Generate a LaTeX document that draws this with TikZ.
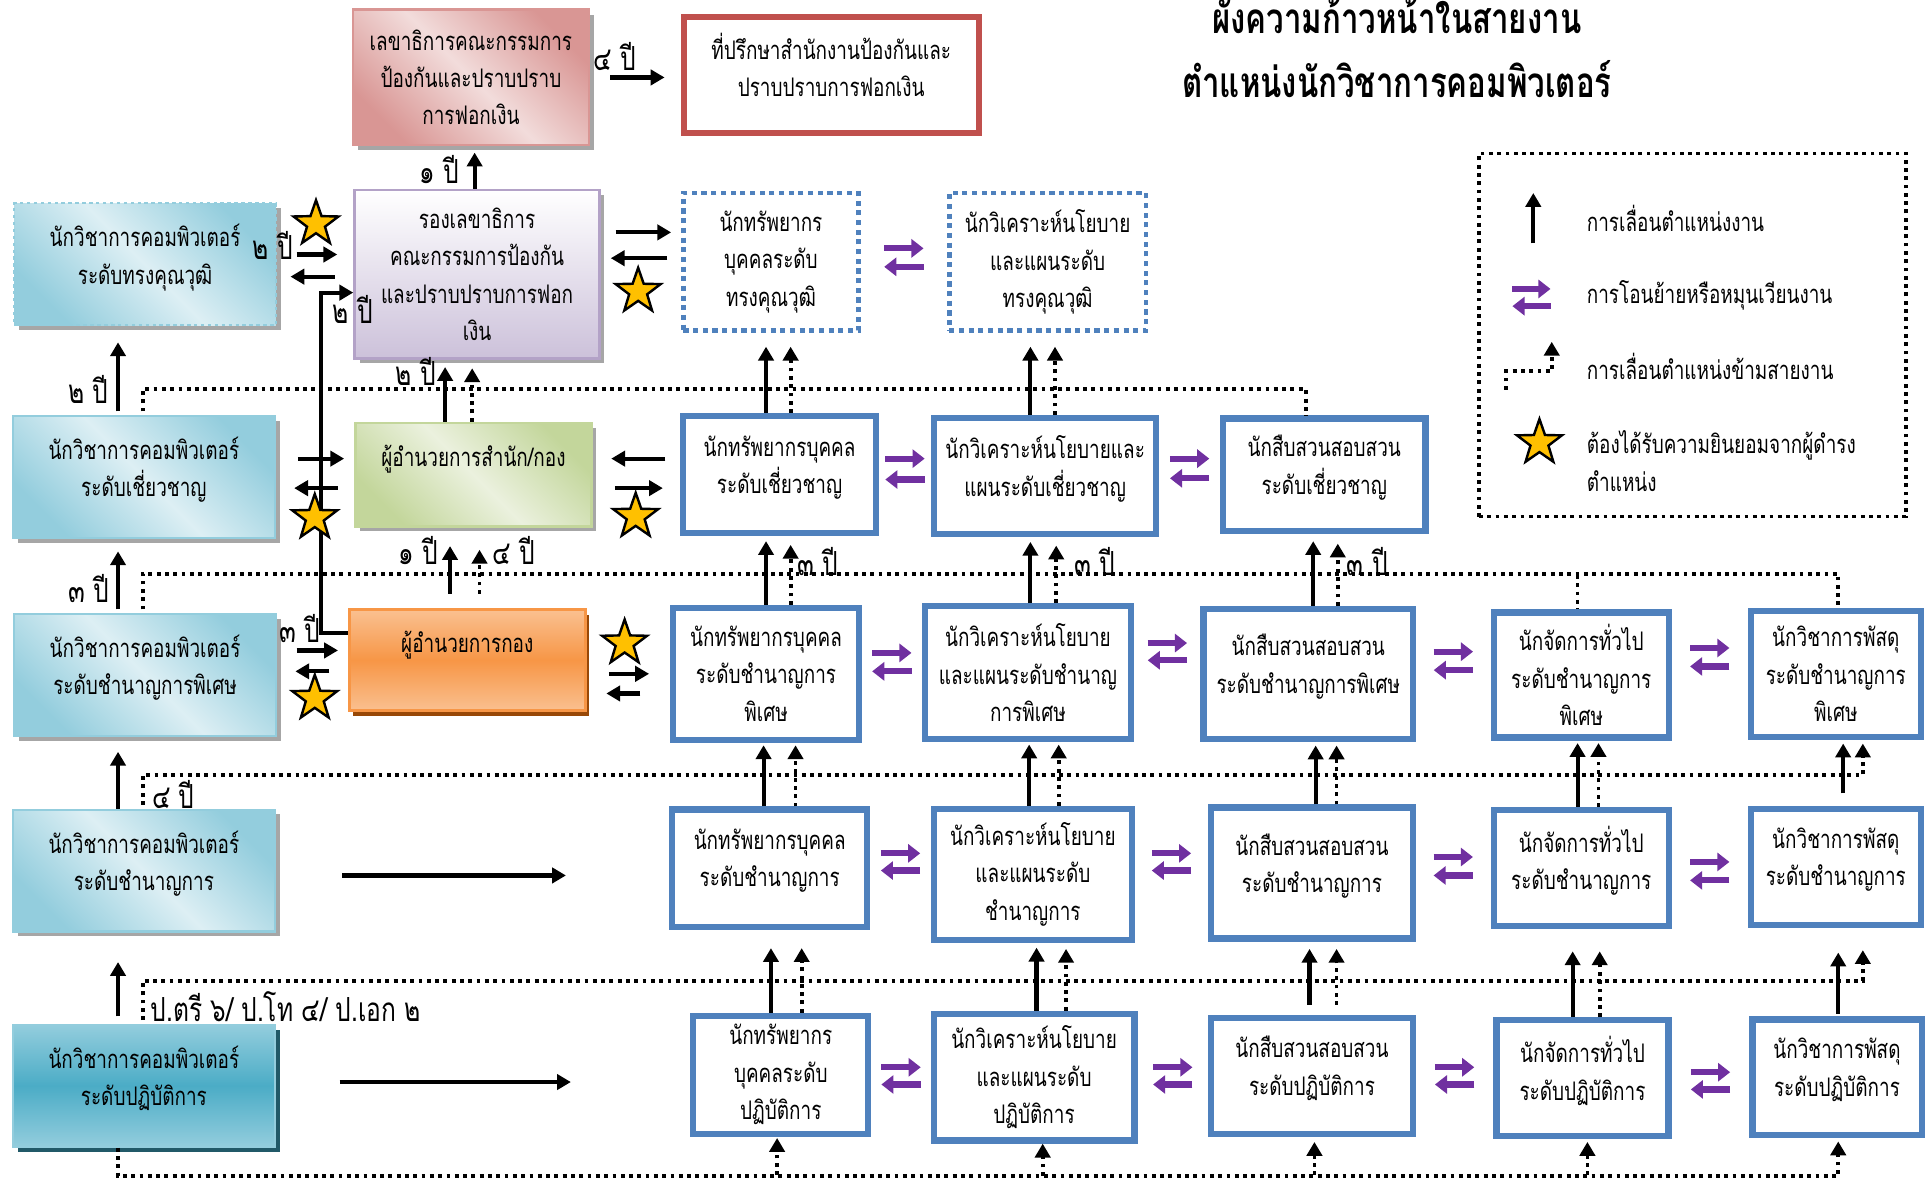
\documentclass[tikz,border=0pt]{standalone}
\usepackage{fontspec}
\newfontfamily\thai[Script=Thai,FakeStretch=0.74]{Loma}
\usetikzlibrary{arrows.meta,shapes.geometric,shadows,calc}
\setlength{\lineskiplimit}{-20pt}

\definecolor{jobblue}{HTML}{4F81BD}
\definecolor{swapc}{HTML}{7030A0}
\definecolor{starc}{HTML}{FFC000}
\definecolor{advred}{HTML}{C0504D}
\definecolor{aquad}{HTML}{93CDDD}
\definecolor{aqual}{HTML}{DDEFF4}
\definecolor{tealc}{HTML}{4BACC6}
\definecolor{tealsh}{HTML}{215968}
\definecolor{pinkd}{HTML}{D99694}
\definecolor{pinkl}{HTML}{F2DCDB}
\definecolor{lavd}{HTML}{CCC1DA}
\definecolor{lavb}{HTML}{B3A2C7}
\definecolor{leafd}{HTML}{C3D69B}
\definecolor{leafl}{HTML}{EBF1DE}
\definecolor{orgd}{HTML}{F79646}
\definecolor{orgl}{HTML}{FAC090}
\definecolor{orgsh}{HTML}{984807}

% purple pair between two neighbouring boxes
\newcommand{\swap}[4]{%
  \draw[trans] ($(#1.east)!.5!(#2.west)+(-16,#3)$) -- ($(#1.east)!.5!(#2.west)+(16,#3)$);
  \draw[trans] ($(#1.east)!.5!(#2.west)+(16,#4)$) -- ($(#1.east)!.5!(#2.west)+(-16,#4)$);}

\tikzset{
  boxfont/.style={font=\thai\fontsize{7.4}{10.8}\selectfont},
  anybox/.style={boxfont, align=center, inner sep=0pt},
  wh/.style 2 args={minimum width=#1mm, minimum height=#2mm},
  boxshadow/.style={drop shadow={shadow xshift=0.5mm, shadow yshift=-0.5mm, fill=black!35, opacity=1}},
  lbox/.style={anybox, boxshadow, draw=aquad, line width=0.6pt,
    top color=aquad, bottom color=aquad, middle color=aqual, shading angle=-45, wh={26.6}{12.4}},
  opbox/.style={anybox, drop shadow={shadow xshift=0.5mm, shadow yshift=-0.5mm, fill=tealsh, opacity=1},
    draw=aquad, line width=0.6pt, top color=aquad, bottom color=aquad, middle color=tealc, wh={26.6}{12.4}},
  secbox/.style={anybox, boxshadow, draw=pinkd, line width=0.8pt,
    top color=pinkd, bottom color=pinkd, middle color=pinkl, shading angle=-45},
  advbox/.style={anybox, draw=advred, line width=1.8pt, fill=white},
  depbox/.style={anybox, boxshadow, draw=lavb, line width=0.8pt, top color=white, bottom color=lavd},
  dirbox/.style={anybox, boxshadow, draw=leafd, line width=0.8pt,
    top color=leafd, bottom color=leafd, middle color=leafl, shading angle=-45},
  divbox/.style={anybox, drop shadow={shadow xshift=0.4mm, shadow yshift=-0.5mm, fill=orgsh, opacity=1},
    draw=orgd, line width=0.8pt, top color=orgl, bottom color=orgl, middle color=orgd},
  jobbox/.style={anybox, draw=jobblue, line width=1.8pt, fill=white},
  topjob/.style={anybox, draw=jobblue, line width=1.4pt, dash pattern=on 1.5pt off 1.3pt, fill=white},
  okstar/.style={star, star points=5, star point ratio=2.5, minimum size=4.8mm, inner sep=0pt,
    fill=starc, draw=black, line width=0.7pt},
  arr/.style={line width=1.2pt, -{Triangle[length=4pt,width=4.4pt]}},
  bus/.style={line width=1.1pt, dash pattern=on 1.1pt off 1.3pt},
  dotarr/.style={bus, -{Triangle[length=4pt,width=4.4pt]}},
  trans/.style={swapc, line width=1.8pt, -{Triangle[length=3.5pt,width=5.2pt]}},
  yr/.style={font=\thai\fontsize{9.6}{12}\selectfont, inner sep=0pt},
  keytxt/.style={boxfont, anchor=west, align=left, inner sep=0pt},
  keybox/.style={draw, line width=1.1pt, dash pattern=on 1.1pt off 1.3pt},
  head/.style={font=\thai\bfseries\fontsize{12.2}{18.4}\selectfont, align=center, inner sep=0pt}
}

\begin{document}
\begin{tikzpicture}[x=0.125mm, y=-0.125mm]
  \useasboundingbox (0,0) rectangle (1568,968);

  % title
  \node[head] (title) at (1136,39) {ผังความก้าวหน้าในสายงาน\\ตำแหน่งนักวิชาการคอมพิวเตอร์};

  % left column
  \node[lbox, dash pattern=on 1pt off 1pt] (L1) at (118,215) {นักวิชาการคอมพิวเตอร์\\ระดับทรงคุณวุฒิ\\[-5pt] \mbox{}};
  \node[lbox] (L2) at (117,388) {นักวิชาการคอมพิวเตอร์\\ระดับเชี่ยวชาญ\\[-5pt] \mbox{}};
  \node[lbox] (L3) at (118,549) {นักวิชาการคอมพิวเตอร์\\ระดับชำนาญการพิเศษ\\[-5pt] \mbox{}};
  \node[lbox] (L4) at (117,708) {นักวิชาการคอมพิวเตอร์\\ระดับชำนาญการ\\[-5pt] \mbox{}};
  \node[opbox] (L5) at (117,883) {นักวิชาการคอมพิวเตอร์\\ระดับปฏิบัติการ\\[-5pt] \mbox{}};

  % executive boxes
  \node[secbox, wh={24}{13.75}] (sec) at (383,63) {เลขาธิการคณะกรรมการ\\ป้องกันและปราบปราบ\\การฟอกเงิน};
  \node[advbox, wh={30}{11.8}] (adv) at (676,61) {ที่ปรึกษาสำนักงานป้องกันและ\\ปราบปราบการฟอกเงิน\\[-5pt] \mbox{}};
  \node[depbox, wh={24.9}{17.1}] (dep) at (388,223) {รองเลขาธิการ\\คณะกรรมการป้องกัน\\และปราบปราบการฟอก\\เงิน};
  \node[dirbox, wh={24}{10.5}] (dir) at (385,386) {ผู้อำนวยการสำนัก/กอง\\ \mbox{}};
  \node[divbox, wh={24}{10.25}] (divd) at (380,537) {ผู้อำนวยการกอง\\ \mbox{}};

  % other lines of work
  \node[topjob, wh={17.8}{14.0}] (A0) at (627,213) {นักทรัพยากร\\บุคคลระดับ\\ทรงคุณวุฒิ};
  \node[topjob, wh={20.0}{14.0}] (B0) at (852,213) {นักวิเคราะห์นโยบาย\\และแผนระดับ\\ทรงคุณวุฒิ};

  \node[jobbox, wh={19.6}{11.9}] (A1) at (634,386) {นักทรัพยากรบุคคล\\ระดับเชี่ยวชาญ\\[-5pt] \mbox{}};
  \node[jobbox, wh={22.6}{11.8}] (B1) at (850,387) {นักวิเคราะห์นโยบายและ\\แผนระดับเชี่ยวชาญ\\[-5pt] \mbox{}};
  \node[jobbox, wh={20.6}{11.4}] (C1) at (1077,386) {นักสืบสวนสอบสวน\\ระดับเชี่ยวชาญ\\[-5pt] \mbox{}};

  \node[jobbox, wh={18.9}{13.4}] (A2) at (623,548) {นักทรัพยากรบุคคล\\ระดับชำนาญการ\\พิเศษ};
  \node[jobbox, wh={21.0}{13.5}] (B2) at (836,547) {นักวิเคราะห์นโยบาย\\และแผนระดับชำนาญ\\การพิเศษ};
  \node[jobbox, wh={21.3}{13.2}] (C2) at (1064,548) {นักสืบสวนสอบสวน\\ระดับชำนาญการพิเศษ\\[-5pt] \mbox{}};
  \node[jobbox, wh={17.8}{12.7}] (D2) at (1286,549) {นักจัดการทั่วไป\\ระดับชำนาญการ\\พิเศษ};
  \node[jobbox, wh={17.3}{12.8}] (E2) at (1493,548) {นักวิชาการพัสดุ\\ระดับชำนาญการ\\พิเศษ};

  \node[jobbox, wh={19.8}{11.9}] (A3) at (626,706) {นักทรัพยากรบุคคล\\ระดับชำนาญการ\\[-5pt] \mbox{}};
  \node[jobbox, wh={20.1}{13.3}] (B3) at (840,711) {นักวิเคราะห์นโยบาย\\และแผนระดับ\\ชำนาญการ};
  \node[jobbox, wh={20.5}{13.3}] (C3) at (1067,710) {นักสืบสวนสอบสวน\\ระดับชำนาญการ\\[-5pt] \mbox{}};
  \node[jobbox, wh={17.8}{11.8}] (D3) at (1286,706) {นักจัดการทั่วไป\\ระดับชำนาญการ\\[-5pt] \mbox{}};
  \node[jobbox, wh={17.3}{11.8}] (E3) at (1493,705) {นักวิชาการพัสดุ\\ระดับชำนาญการ\\[-5pt] \mbox{}};

  \node[jobbox, wh={17.8}{12.0}] (A4) at (635,874) {นักทรัพยากร\\บุคคลระดับ\\ปฏิบัติการ};
  \node[jobbox, wh={20.4}{12.9}] (B4) at (841,876) {นักวิเคราะห์นโยบาย\\และแผนระดับ\\ปฏิบัติการ};
  \node[jobbox, wh={20.5}{11.8}] (C4) at (1067,875) {นักสืบสวนสอบสวน\\ระดับปฏิบัติการ\\[-5pt] \mbox{}};
  \node[jobbox, wh={17.5}{11.8}] (D4) at (1287,877) {นักจัดการทั่วไป\\ระดับปฏิบัติการ\\[-5pt] \mbox{}};
  \node[jobbox, wh={17.2}{11.7}] (E4) at (1494,876) {นักวิชาการพัสดุ\\ระดับปฏิบัติการ\\[-5pt] \mbox{}};

  % cross-line buses
  \draw[bus] ([shift={(-1,-3)}]L2.north) -- ++(0,-18) -| ([shift={(-15,0)}]C1.north);
  \draw[bus] ([shift={(-2,-3)}]L3.north) -- ++(0,-29) -| ([shift={(2,0)}]E2.north);
  \draw[bus] ([shift={(-3,-28)}]D2.north) -- ([shift={(-3,0)}]D2.north);
  \draw[dotarr] ([shift={(-1,-3)}]L4.north) -- ++(0,-24) -| ([shift={(22,3)}]E2.south);
  \draw[dotarr] ([shift={(-1,-3)}]L5.north) -- ++(0,-32) -| ([shift={(22,18)}]E3.south);
  \draw[dotarr] ([shift={(-21,0)}]L5.south) -- ++(0,23) -| ([shift={(1,3)}]E4.south);

  % left column promotions
  \draw[arr] ([shift={(-21,-3)}]L2.north) -- ([shift={(-22,13)}]L1.south);
  \draw[arr] ([shift={(-22,-3)}]L3.north) -- ([shift={(-21,10)}]L2.south);
  \draw[arr] ([shift={(-21,0)}]L4.north) -- ([shift={(-22,12)}]L3.south);
  \draw[arr] ([shift={(-21,-6)}]L5.north) -- ([shift={(-21,24)}]L4.south);

  % executive promotions
  \draw[arr] ([shift={(16,0)}]sec.east) -- ([shift={(-13,2)}]adv.west);
  \draw[arr] ([shift={(-2,0)}]dep.north) -- ([shift={(3,5)}]sec.south);
  \draw[arr] ([shift={(-23,0)}]dir.north) -- ([shift={(-26,6)}]dep.south);
  \draw[dotarr] ([shift={(-1,0)}]dir.north) -- ([shift={(-4,7)}]dep.south);
  \draw[arr] ([shift={(-14,-12)}]divd.north) -- ([shift={(-19,15)}]dir.south);
  \draw[dotarr] ([shift={(10,-12)}]divd.north) -- ([shift={(5,18)}]dir.south);
  \draw[arr] ([shift={(0,-22)}]divd.west) -- ++(-22,0) |- ([shift={(0,15)}]dep.west);

  % side moves
  \draw[arr] ([shift={(16,-8)}]L1.east) -- ([shift={(-13,-16)}]dep.west);
  \draw[arr] ([shift={(-15,2)}]dep.west) -- ([shift={(11,10)}]L1.east);
  \draw[arr] ([shift={(12,-34)}]dep.east) -- ([shift={(-8,-24)}]A0.west);
  \draw[arr] ([shift={(-11,-3)}]A0.west) -- ([shift={(8,-13)}]dep.east);
  \draw[arr] ([shift={(18,-15)}]L2.east) -- ([shift={(-8,-13)}]dir.west);
  \draw[arr] ([shift={(-13,11)}]dir.west) -- ([shift={(15,9)}]L2.east);
  \draw[arr] ([shift={(-12,-13)}]A1.west) -- ([shift={(15,-13)}]dir.east);
  \draw[arr] ([shift={(18,11)}]dir.east) -- ([shift={(-14,11)}]A1.west);
  \draw[arr] ([shift={(16,-20)}]L3.east) -- ([shift={(-8,-8)}]divd.west);
  \draw[arr] ([shift={(-15,9)}]divd.west) -- ([shift={(15,-3)}]L3.east);
  \draw[arr] ([shift={(18,11)}]divd.east) -- ([shift={(-17,0)}]A2.west);
  \draw[arr] ([shift={(-24,16)}]A2.west) -- ([shift={(16,27)}]divd.east);
  \draw[arr] ([shift={(54,4)}]L4.east) -- ([shift={(-84,6)}]A3.west);
  \draw[arr] ([shift={(52,-3)}]L5.east) -- ([shift={(-97,6)}]A4.west);

  % row 1 -> row 0
  \draw[arr] ([shift={(-11,0)}]A1.north) -- ([shift={(-4,11)}]A0.south);
  \draw[dotarr] ([shift={(9,0)}]A1.north) -- ([shift={(16,11)}]A0.south);
  \draw[arr] ([shift={(-12,0)}]B1.north) -- ([shift={(-14,11)}]B0.south);
  \draw[dotarr] ([shift={(8,0)}]B1.north) -- ([shift={(6,11)}]B0.south);
  % row 2 -> row 1
  \draw[arr] (A2.north) -- ([shift={(-11,4)}]A1.south);
  \draw[dotarr] ([shift={(20,0)}]A2.north) -- ([shift={(9,7)}]A1.south);
  \draw[arr] ([shift={(2,0)}]B2.north) -- ([shift={(-12,4)}]B1.south);
  \draw[dotarr] ([shift={(23,0)}]B2.north) -- ([shift={(9,7)}]B1.south);
  \draw[arr] ([shift={(4,0)}]C2.north) -- ([shift={(-9,6)}]C1.south);
  \draw[dotarr] ([shift={(24,0)}]C2.north) -- ([shift={(11,8)}]C1.south);
  % row 3 -> row 2
  \draw[arr] ([shift={(-5,0)}]A3.north) -- ([shift={(-2,2)}]A2.south);
  \draw[dotarr] ([shift={(21,0)}]A3.north) -- ([shift={(24,2)}]A2.south);
  \draw[arr] ([shift={(-3,0)}]B3.north) -- ([shift={(1,2)}]B2.south);
  \draw[dotarr] ([shift={(21,0)}]B3.north) -- ([shift={(25,2)}]B2.south);
  \draw[arr] ([shift={(3,0)}]C3.north) -- ([shift={(6,3)}]C2.south);
  \draw[dotarr] ([shift={(20,0)}]C3.north) -- ([shift={(23,3)}]C2.south);
  \draw[arr] ([shift={(-3,0)}]D3.north) -- ([shift={(-3,2)}]D2.south);
  \draw[dotarr] ([shift={(14,0)}]D3.north) -- ([shift={(14,2)}]D2.south);
  \draw[arr] ([shift={(6,-10)}]E3.north) -- ([shift={(6,3)}]E2.south);
  % row 4 -> row 3
  \draw[arr] ([shift={(-8,0)}]A4.north) -- ([shift={(1,15)}]A3.south);
  \draw[dotarr] ([shift={(17,0)}]A4.north) -- ([shift={(26,15)}]A3.south);
  \draw[arr] ([shift={(2,0)}]B4.north) -- ([shift={(3,4)}]B3.south);
  \draw[dotarr] ([shift={(26,0)}]B4.north) -- ([shift={(27,5)}]B3.south);
  \draw[arr] ([shift={(-2,-8)}]C4.north) -- ([shift={(-2,6)}]C3.south);
  \draw[dotarr] ([shift={(20,-8)}]C4.north) -- ([shift={(20,6)}]C3.south);
  \draw[arr] ([shift={(-8,0)}]D4.north) -- ([shift={(-7,18)}]D3.south);
  \draw[dotarr] ([shift={(14,0)}]D4.north) -- ([shift={(15,18)}]D3.south);
  \draw[arr] ([shift={(1,-2)}]E4.north) -- ([shift={(2,20)}]E3.south);
  % bottom bus -> row 4
  \draw[dotarr] ([shift={(-3,31)}]A4.south) -- ([shift={(-3,1)}]A4.south);
  \draw[dotarr] ([shift={(7,26)}]B4.south) -- ([shift={(7,0)}]B4.south);
  \draw[dotarr] ([shift={(2,31)}]C4.south) -- ([shift={(2,4)}]C4.south);
  \draw[dotarr] ([shift={(4,29)}]D4.south) -- ([shift={(4,2)}]D4.south);

  % transfers
  \swap{A0}{B0}{-11}{4}
  \swap{A1}{B1}{-13.5}{3.5}
  \swap{B1}{C1}{-13.5}{2.5}
  \swap{A2}{B2}{-16.5}{-1.5}
  \swap{B2}{C2}{-24.5}{-10.5}
  \swap{C2}{D2}{-18.5}{-3.5}
  \swap{D2}{E2}{-21.5}{-6.5}
  \swap{A3}{B3}{-14.5}{-0.5}
  \swap{B3}{C3}{-16.5}{-2.5}
  \swap{C3}{D3}{-11}{4}
  \swap{D3}{E3}{-4.5}{10.5}
  \swap{A4}{B4}{-7}{7}
  \swap{B4}{C4}{-7.5}{6.5}
  \swap{C4}{D4}{-8}{6}
  \swap{D4}{E4}{-4.5}{9.5}

  % consent stars
  \node[okstar] (st1) at (257,182) {};
  \node[okstar] (st2) at (519,237) {};
  \node[okstar] (st3) at (256,421) {};
  \node[okstar] (st4) at (517,420) {};
  \node[okstar] (st5) at (256,568) {};
  \node[okstar] (st6) at (508,523) {};

  % years
  \node[yr] (y1) at (500,46) {๔ ปี};
  \node[yr] (y2) at (357,138) {๑ ปี};
  \node[yr] (y3) at (222,200) {๒ ปี};
  \node[yr] (y4) at (287,252) {๒ ปี};
  \node[yr] (y5) at (338,302) {๒ ปี};
  \node[yr] (y6) at (72,317) {๒ ปี};
  \node[yr] (y7) at (340,448) {๑ ปี};
  \node[yr] (y8) at (418,448) {๔ ปี};
  \node[yr] (y9) at (665,457) {๓ ปี};
  \node[yr] (y10) at (890,457) {๓ ปี};
  \node[yr] (y11) at (1112,457) {๓ ปี};
  \node[yr] (y12) at (72,479) {๓ ปี};
  \node[yr] (y13) at (244,511) {๓ ปี};
  \node[yr] (y14) at (141,646) {๔ ปี};
  \node[yr, anchor=west] (y15) at (122,819) {ป.ตรี ๖/ ป.โท ๔/ ป.เอก ๒};

  % legend
  \node[keybox, wh={43.4}{36.9}] (key) at (1376.5,272.5) {};
  \draw[arr] (1247,198) -- (1247,157);
  \draw[trans] (1230,235) -- (1261,235);
  \draw[trans] (1261,249) -- (1230,249);
  \draw[dotarr] (1225,317) -- (1225,302) -- (1262,302) -- (1262,278);
  \node[okstar] (st7) at (1252,360) {};
  \node[keytxt] (k1) at (1290,178) {การเลื่อนตำแหน่งงาน};
  \node[keytxt] (k2) at (1290,240) {การโอนย้ายหรือหมุนเวียนงาน};
  \node[keytxt] (k3) at (1290,298) {การเลื่อนตำแหน่งข้ามสายงาน};
  \node[keytxt] (k4) at (1290,375) {ต้องได้รับความยินยอมจากผู้ดำรง\\ตำแหน่ง};
\end{tikzpicture}
\end{document}
